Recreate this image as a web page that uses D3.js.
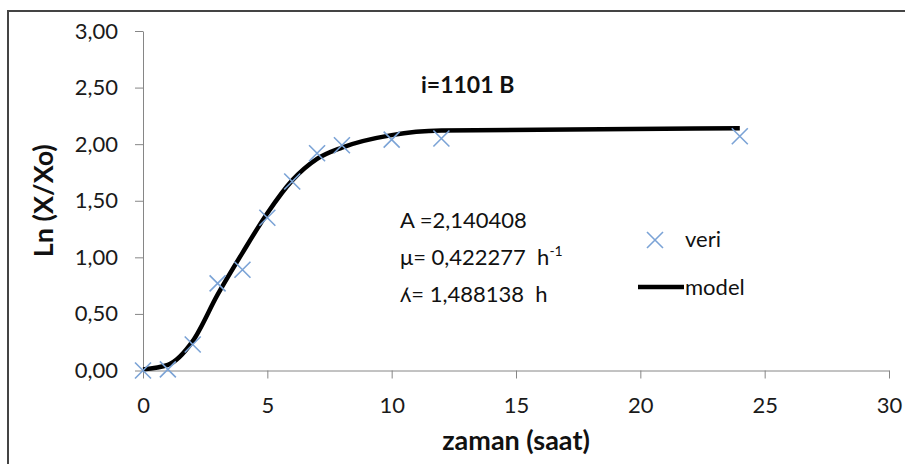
<!DOCTYPE html>
<html>
<head>
<meta charset="utf-8">
<script src="https://cdn.jsdelivr.net/npm/d3@7"></script>
<style>
  body { margin: 0; background: #fff; }
  svg { display: block; }
  .axis path, .axis line { stroke: #868686; }
  .axis text { font-family: Lato, "DejaVu Sans", sans-serif; font-size: 22px; fill: #1a1a1a; }
</style>
</head>
<body>
<div class="growth-chart"></div>
<script>
  // measured points (veri)
  const timeData = [0, 1, 2, 3, 4, 5, 6, 7, 8, 10, 12, 24];
  const lnData = [0.00, 0.01, 0.23, 0.77, 0.89, 1.35, 1.67, 1.92, 1.99, 2.04, 2.05, 2.07];

  // model curve
  const modelTime = [0, 1, 2, 3, 4, 5, 6, 7, 8, 10, 12, 24];
  const modelValues = [0.01, 0.05, 0.26, 0.67, 1.04, 1.39, 1.68, 1.87, 1.97, 2.08, 2.12, 2.14];

  const xTicks = [0, 5, 10, 15, 20, 25, 30];
  const yTicks = [0, 0.5, 1, 1.5, 2, 2.5, 3];

  const chartTitle = "i=1101 B";
  const paramA = "A =2,140408";
  const paramMu = "\u03BC= 0,422277  h";
  const paramLambda = "\u028E= 1,488138  h";

  const width = 905;
  const height = 464;

  const svg = d3.select('.growth-chart')
    .append("svg")
    .attr("width", width)
    .attr("height", height);

  // outer chart frame (right/bottom edges fall outside the picture)
  svg.append("rect")
    .attr("x", 8)
    .attr("y", 11)
    .attr("width", 910)
    .attr("height", 470)
    .attr("fill", "none")
    .attr("stroke", "#444")
    .attr("stroke-width", 2);

  const x = d3.scaleLinear()
    .domain([0, 30])
    .range([143, 889]);

  const y = d3.scaleLinear()
    .domain([0, 3])
    .range([370.5, 31]);

  const comma = d => d3.format(".2f")(d).replace(".", ",");

  svg.append("g")
    .attr("class", "axis")
    .attr("transform", "translate(0," + y(0) + ")")
    .call(d3.axisBottom(x).tickValues(xTicks).tickSize(8).tickSizeOuter(0).tickPadding(19));

  svg.append("g")
    .attr("class", "axis")
    .attr("transform", "translate(" + x(0) + ",0)")
    .call(d3.axisLeft(y).tickValues(yTicks).tickFormat(comma).tickSize(8).tickSizeOuter(0).tickPadding(17));

  // model line
  const line = d3.line()
    .x((d, i) => x(modelTime[i]))
    .y(d => y(d))
    .curve(d3.curveMonotoneX);

  svg.append("path")
    .datum(modelValues)
    .attr("d", line)
    .attr("fill", "none")
    .attr("stroke", "#000")
    .attr("stroke-width", 4.5)
    .attr("stroke-linejoin", "round");

  // X markers
  const crossPath = s => `M${-s},${-s}L${s},${s}M${-s},${s}L${s},${-s}`;

  svg.selectAll(".veri")
    .data(lnData)
    .enter()
    .append("path")
    .attr("class", "veri")
    .attr("transform", (d, i) => "translate(" + x(timeData[i]) + "," + y(d) + ")")
    .attr("d", crossPath(8))
    .attr("stroke", "#7ba3d6")
    .attr("stroke-width", 1.6)
    .attr("fill", "none");

  const txt = (tx, ty, s, size, weight) => svg.append("text")
    .attr("x", tx)
    .attr("y", ty)
    .attr("font-family", "Lato, 'DejaVu Sans', sans-serif")
    .attr("font-size", size)
    .attr("font-weight", weight)
    .attr("fill", "#111")
    .style("white-space", "pre")
    .text(s);

  // axis titles
  txt(x(15), 450, "zaman (saat)", "27px", "bold").attr("text-anchor", "middle");
  txt(0, 0, "Ln (X/Xo)", "27px", "bold")
    .attr("text-anchor", "middle")
    .attr("transform", "translate(53," + (y(1.5)) + ") rotate(-90)");

  txt(421, 93, chartTitle, "23px", "bold");

  // parameter block
  txt(400, 228, paramA, "22px", "normal");
  txt(400, 265, paramMu, "22px", "normal")
    .append("tspan")
    .attr("font-size", "14px")
    .attr("dy", -9)
    .text("-1");
  txt(400, 302, paramLambda, "22px", "normal");

  // legend
  svg.append("path")
    .attr("transform", "translate(655,240)")
    .attr("d", crossPath(8))
    .attr("stroke", "#7ba3d6")
    .attr("stroke-width", 1.6)
    .attr("fill", "none");
  txt(685, 247, "veri", "22px", "normal");

  svg.append("line")
    .attr("x1", 638)
    .attr("x2", 684)
    .attr("y1", 287)
    .attr("y2", 287)
    .attr("stroke", "#000")
    .attr("stroke-width", 4.5);
  txt(685, 295, "model", "22px", "normal");
</script>
</body>
</html>
